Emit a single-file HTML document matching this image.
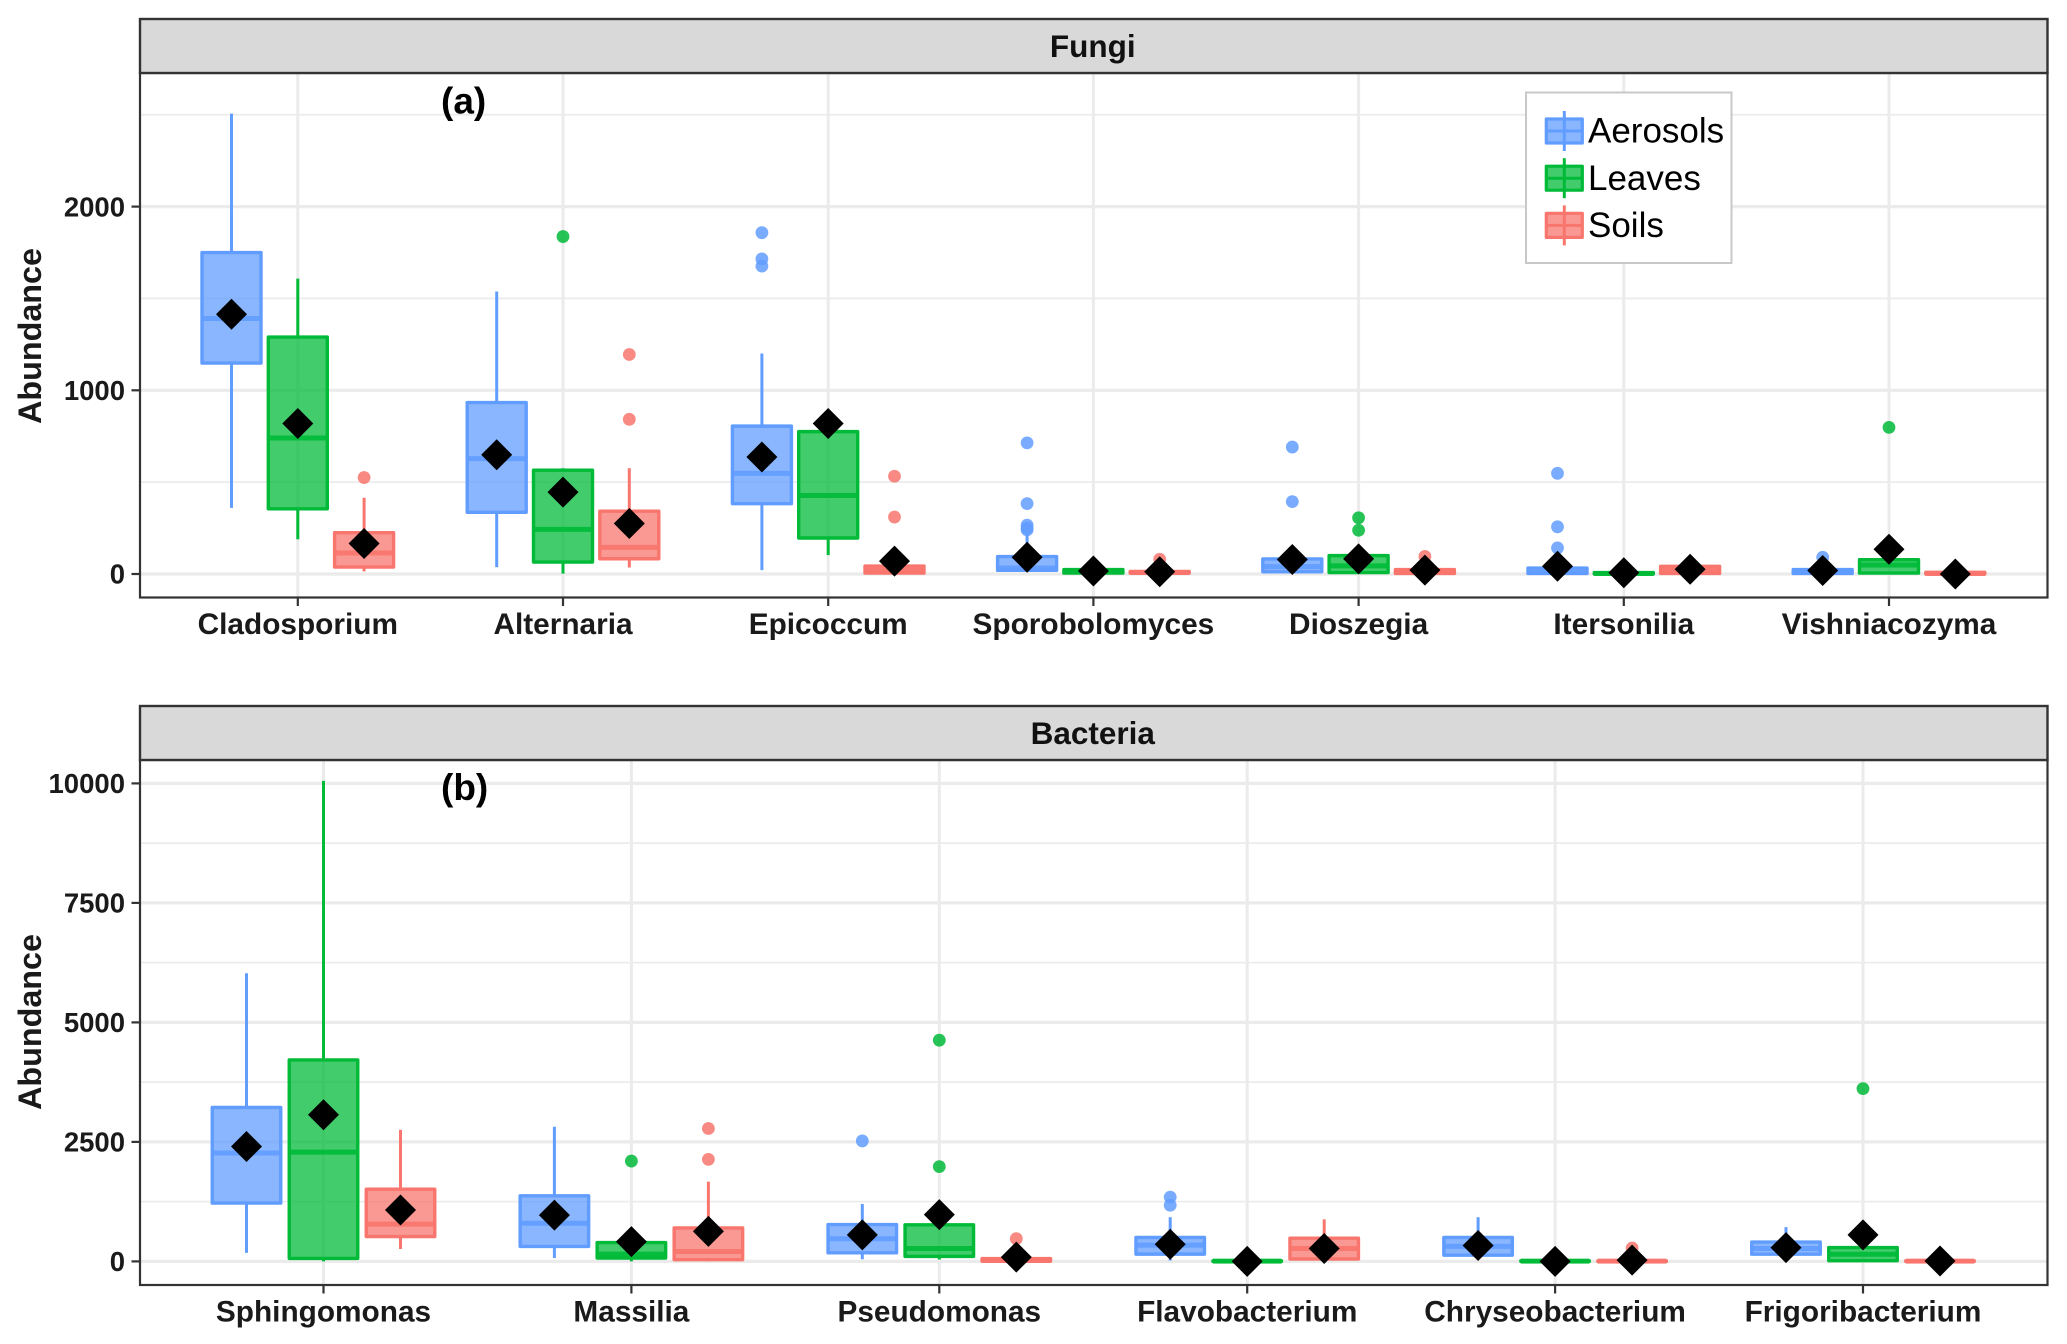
<!DOCTYPE html>
<html lang="en">
<head>
<meta charset="utf-8">
<title>Fungi and bacteria abundance box plots</title>
<style>
html,body{margin:0;padding:0;background:#fff;}
svg{display:block;font-family:"Liberation Sans",sans-serif;}
</style>
</head>
<body>
<svg id="chart" xmlns="http://www.w3.org/2000/svg" width="2067" height="1344" viewBox="0 0 2067 1344"></svg>
<script>
// Row format: low whisker, q1, median, q3, high whisker, mean, outliers
const fungiCategories = ["Cladosporium","Alternaria","Epicoccum","Sporobolomyces","Dioszegia","Itersonilia","Vishniacozyma"];
const fungiAerosols = [
  [360,1148,1391,1750,2506,1414,[]],
  [37,336,628,933,1538,649,[]],
  [21,383,548,805,1200,637,[1858,1715,1676]],
  [12,20,33,95,215,91,[714,383,266,250,240]],
  [7,12,40,82,82,79,[691,394]],
  [0,3,9,32,32,42,[548,257,142]],
  [0,3,9,24,24,19,[91]]
];
const fungiLeaves = [
  [189,355,740,1290,1608,819,[]],
  [2,65,243,565,576,446,[1837]],
  [103,196,427,775,775,819,[]],
  [0,5,14,24,24,16,[]],
  [5,8,44,100,100,82,[306,238]],
  [0,0,3,8,8,7,[]],
  [2,5,49,78,78,135,[798]]
];
const fungiSoils = [
  [14,38,114,225,415,166,[525]],
  [35,83,145,342,576,275,[1195,842]],
  [0,5,20,43,43,70,[532,310]],
  [0,5,8,14,14,12,[80]],
  [0,3,14,24,24,21,[96]],
  [0,3,20,42,42,26,[]],
  [0,0,3,9,9,0,[]]
];
const fungiTicks = [0,1000,2000];
const fungiMinorTicks = [500,1500,2500];

const bacteriaCategories = ["Sphingomonas","Massilia","Pseudomonas","Flavobacterium","Chryseobacterium","Frigoribacterium"];
const bacteriaAerosols = [
  [179,1220,2269,3220,6027,2404,[]],
  [72,314,798,1372,2816,969,[]],
  [45,179,475,771,1202,556,[2520]],
  [18,152,340,502,924,359,[1345,1175]],
  [117,130,314,502,924,332,[]],
  [135,150,269,404,717,287,[]]
];
const bacteriaLeaves = [
  [0,63,2287,4215,10054,3067,[]],
  [0,70,152,395,395,413,[2099]],
  [40,105,269,765,771,978,[4628,1982]],
  [0,0,5,12,12,0,[]],
  [0,0,5,12,12,0,[]],
  [0,15,150,290,290,556,[3614]]
];
const bacteriaSoils = [
  [260,520,780,1510,2753,1076,[]],
  [0,36,206,700,1668,628,[2780,2135]],
  [0,5,18,60,60,90,[475]],
  [45,50,269,485,879,269,[]],
  [0,0,5,12,12,27,[280]],
  [0,0,5,12,12,9,[]]
];
const bacteriaTicks = [0,2500,5000,7500,10000];
const bacteriaMinorTicks = [1250,3750,6250,8750];

const seriesNames = ["Aerosols","Leaves","Soils"];
const seriesColors = ["#619CFF","#00BA38","#F8766D"];

const NS = "http://www.w3.org/2000/svg";
const root = document.getElementById("chart");

function mk(tag, attrs, parent, text){
  const el = document.createElementNS(NS, tag);
  for (const k in attrs) el.setAttribute(k, attrs[k]);
  if (text !== undefined) el.textContent = text;
  parent.appendChild(el);
  return el;
}
function slug(s){ return s.toLowerCase(); }

function drawPanel(cfg){
  const L = 140, R = 2047.5;
  const panel = mk("g", {}, root);
  
  
  const yScale = v => cfg.y0 + v * cfg.pxPerUnit;
  const xScale = i => cfg.x0 + i * cfg.step;

  // plot background grid
  const grid = mk("g", {}, panel);
  
  
  cfg.minor.forEach(v => {
    const gl = mk("line", {x1:L, x2:R, y1:yScale(v), y2:yScale(v), stroke:"#ececec", "stroke-width":1.8}, grid);
    
    
  });
  cfg.ticks.forEach(v => {
    const gl = mk("line", {x1:L, x2:R, y1:yScale(v), y2:yScale(v), stroke:"#ebebeb", "stroke-width":3.2}, grid);
    
    
  });
  cfg.categories.forEach((c, i) => {
    const gl = mk("line", {x1:xScale(i), x2:xScale(i), y1:cfg.stripBottom, y2:cfg.bottom, stroke:"#ebebeb", "stroke-width":3}, grid);
    
    
  });

  // boxes, outliers and means
  const means = [];
  cfg.categories.forEach((c, i) => {
    cfg.series.forEach((rows, s) => {
      const row = rows[i];
      const low = row[0], q1 = row[1], med = row[2], q3 = row[3], high = row[4], mean = row[5], outs = row[6];
      const cx = xScale(i) + (s - 1) * cfg.dodge;
      const col = seriesColors[s];
      const g = mk("g", {}, panel);
      
      
      const w1 = mk("line", {x1:cx, x2:cx, y1:yScale(q3), y2:yScale(high), stroke:col, "stroke-width":3}, g);
      
      
      const w2 = mk("line", {x1:cx, x2:cx, y1:yScale(q1), y2:yScale(low), stroke:col, "stroke-width":3}, g);
      
      
      const top = yScale(q3), bot = yScale(q1);
      const rc = mk("rect", {x:cx - cfg.boxW/2, y:top, width:cfg.boxW, height:Math.max(bot - top, 0.5), fill:col, "fill-opacity":0.74, stroke:col, "stroke-width":3.4, "stroke-linejoin":"round"}, g);
      
      
      const ml = mk("line", {x1:cx - cfg.boxW/2, x2:cx + cfg.boxW/2, y1:yScale(med), y2:yScale(med), stroke:col, "stroke-opacity":0.9, "stroke-width":5}, g);
      
      
      outs.forEach(v => {
        const o = mk("circle", {cx:cx, cy:yScale(v), r:6.4, fill:col, "fill-opacity":0.85}, g);
        
        
      });
      means.push([cx, yScale(mean), c, s]);
    });
  });
  means.forEach(m => {
    const d = 15.5;
    const p = mk("polygon", {points:[[m[0],m[1]-d],[m[0]+d,m[1]],[m[0],m[1]+d],[m[0]-d,m[1]]].map(q=>q.join(",")).join(" "), fill:"#000"}, panel);
    
    
  });

  // frame and strip
  const frame = mk("rect", {x:L, y:cfg.stripBottom, width:R-L, height:cfg.bottom-cfg.stripBottom, fill:"none", stroke:"#333", "stroke-width":2.2}, panel);
  
  
  const strip = mk("rect", {x:L, y:cfg.stripTop, width:R-L, height:cfg.stripBottom-cfg.stripTop, fill:"#d9d9d9", stroke:"#333", "stroke-width":2.4}, panel);
  
  
  const st = mk("text", {x:(L+R)/2 - 1, y:cfg.stripBottom-16, "text-anchor":"middle", "font-size":31.5, "font-weight":"bold", fill:"#111"}, panel, cfg.title);
  
  

  // y axis
  cfg.ticks.forEach(v => {
    const t = mk("line", {x1:L-8.5, x2:L, y1:yScale(v), y2:yScale(v), stroke:"#333", "stroke-width":2.2}, panel);
    
    
    const lb = mk("text", {x:L-15, y:yScale(v)+9.7, "text-anchor":"end", "font-size":27.5, "font-weight":"bold", fill:"#1a1a1a"}, panel, String(v));
    
    
  });
  const yt = mk("text", {transform:"translate(41," + cfg.yTitleY + ") rotate(-90)", "text-anchor":"middle", "font-size":32.3, "font-weight":"bold", fill:"#1a1a1a"}, panel, "Abundance");
  
  

  // x axis
  cfg.categories.forEach((c, i) => {
    const t = mk("line", {x1:xScale(i), x2:xScale(i), y1:cfg.bottom, y2:cfg.bottom+8.5, stroke:"#333", "stroke-width":2.2}, panel);
    
    
    const lb = mk("text", {x:xScale(i), y:cfg.bottom+36.5, "text-anchor":"middle", "font-size":29.8, "font-weight":"bold", fill:"#1a1a1a"}, panel, c);
    
    
  });

  const tag = mk("text", {x:441, y:cfg.tagY, "font-size":37, "font-weight":"bold", fill:"#000"}, panel, cfg.tag);
  
  
}

drawPanel({
  title:"Fungi", tag:"(a)", tagY:113.5, categories:fungiCategories,
  series:[fungiAerosols, fungiLeaves, fungiSoils],
  ticks:fungiTicks, minor:fungiMinorTicks,
  y0:574, pxPerUnit:-0.1837, x0:297.8, step:265.2, dodge:66.3, boxW:59,
  stripTop:19, stripBottom:73, bottom:597.5, yTitleY:336
});
drawPanel({
  title:"Bacteria", tag:"(b)", tagY:800, categories:bacteriaCategories,
  series:[bacteriaAerosols, bacteriaLeaves, bacteriaSoils],
  ticks:bacteriaTicks, minor:bacteriaMinorTicks,
  y0:1261.4, pxPerUnit:-0.0478, x0:323.5, step:307.9, dodge:77, boxW:68.5,
  stripTop:706, stripBottom:760, bottom:1285, yTitleY:1022
});

// legend
const legend = mk("g", {}, root);


const legendBox = mk("rect", {x:1526, y:92.5, width:205.5, height:170.5, fill:"#fff", stroke:"#c8c8c8", "stroke-width":2}, legend);


seriesNames.forEach((name, s) => {
  const col = seriesColors[s];
  const top = 119 + s * 47.2, h = 24, xc = 1564.3, wk = 36;
  const e = mk("g", {}, legend);
  
  
  const w = mk("line", {x1:xc, x2:xc, y1:top-8, y2:top+h+8, stroke:col, "stroke-width":3}, e);
  
  
  const r = mk("rect", {x:xc-wk/2, y:top, width:wk, height:h, fill:col, "fill-opacity":0.74, stroke:col, "stroke-width":3.2, "stroke-linejoin":"round"}, e);
  
  
  const m = mk("line", {x1:xc-wk/2, x2:xc+wk/2, y1:top+h/2, y2:top+h/2, stroke:col, "stroke-width":3}, e);
  
  
  const t = mk("text", {x:1588, y:142.7 + s * 47.2, "font-size":35, fill:"#000"}, e, name);
  
  
});
</script>
</body>
</html>
